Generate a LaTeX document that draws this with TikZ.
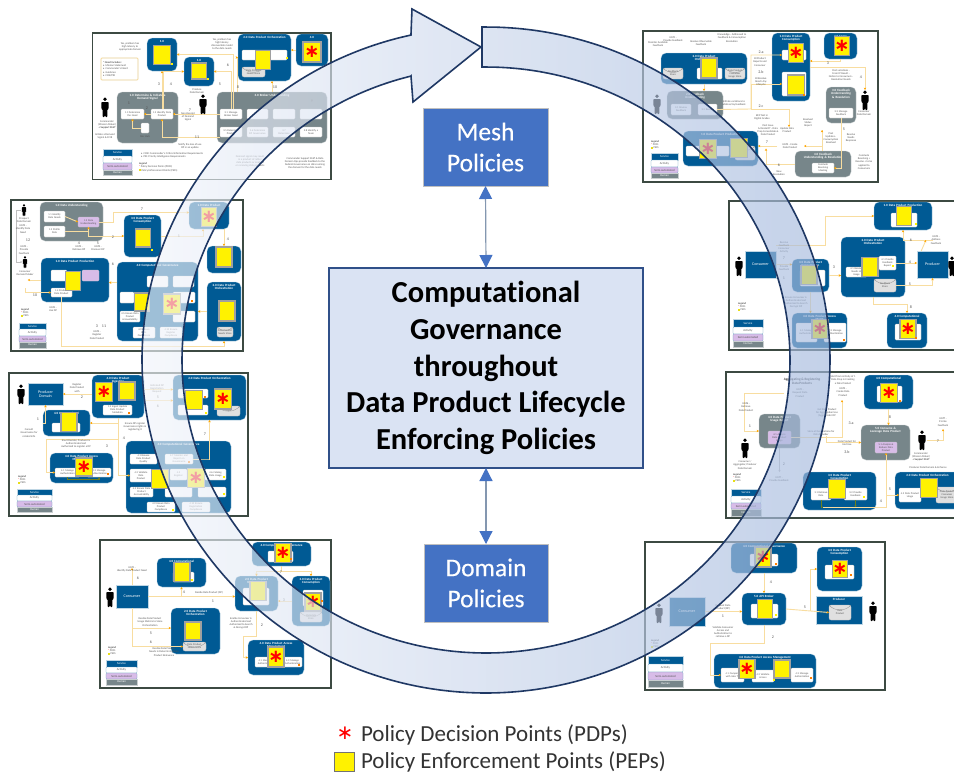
\documentclass[tikz,border=0pt]{standalone}
\usepackage{fontspec}
\setmainfont{Carlito}[Ligatures=NoCommon]
\newfontfamily\starf{DejaVu Sans}
\newfontfamily\meshf{Carlito}[FakeBold=0.4]
\usetikzlibrary{arrows.meta,calc,shapes.geometric}
\definecolor{svcblue}{HTML}{005A94}
\definecolor{hum}{HTML}{77868A}
\definecolor{semic}{HTML}{D8BCE8}
\definecolor{linec}{HTML}{F8DDA0}
\definecolor{olivec}{HTML}{6E7F1E}
\definecolor{framec}{HTML}{3C4A42}
\definecolor{ringc}{HTML}{1F3864}
\definecolor{meshc}{HTML}{4472C4}
\definecolor{pepg}{HTML}{A0A0A0}
\definecolor{txtg}{HTML}{555555}
\definecolor{dblc}{HTML}{8497B0}
\definecolor{ringl}{HTML}{F2F5FB}
\definecolor{ringr}{HTML}{A5BADE}
\tikzset{
  frm/.style={draw=framec,line width=1.3pt,fill=white,inner sep=0,outer sep=0},
  svc/.style={fill=svcblue,draw=svcblue!25,line width=.3pt,rounded corners=5pt,inner sep=0,outer sep=0},
  sqb/.style={fill=svcblue,draw=svcblue!25,line width=.3pt,inner sep=0,outer sep=0,text=white,align=center,font=\fontsize{4}{4.6}\selectfont},
  gry/.style={fill=hum,draw=hum!40,line width=.3pt,rounded corners=5pt,inner sep=0,outer sep=0},
  act/.style={fill=white,draw=black!25,line width=.3pt,rounded corners=1pt,inner sep=0,outer sep=0,align=center,text=txtg,font=\fontsize{2.6}{2.9}\selectfont},
  smi/.style={act,fill=semic},
  cyl/.style={act,fill=black!12,rounded corners=2pt},
  ttl/.style={inner sep=0,outer sep=0,align=center,text=white,font=\bfseries\fontsize{3.2}{3.7}\selectfont},
  lbl/.style={inner sep=0,outer sep=0,align=center,text=txtg,font=\fontsize{2.7}{3.1}\selectfont},
  num/.style={inner sep=0,outer sep=0,text=txtg,font=\fontsize{4}{4}\selectfont},
  pepn/.style={fill=yellow,draw=pepg,line width=1.4pt,inner sep=0,outer sep=0},
  pdpn/.style={pepn,text=red,font=\starf\bfseries\fontsize{18}{18}\selectfont},
  cn/.style={draw=linec,line width=.9pt,-{Stealth[length=2.4pt,width=2.4pt,color=orange!70!yellow]}},
  cd/.style={draw=olivec,line width=.5pt,-{Stealth[length=2pt,width=2pt]}},
  cg/.style={draw=black!25,line width=.5pt,-{Stealth[length=2pt,width=2pt]}},
  lgs/.style={sqb,font=\fontsize{3}{3}\selectfont},
  lga/.style={act,draw=svcblue!60,font=\fontsize{3}{3}\selectfont},
  lgm/.style={lga,fill=semic},
  lgh/.style={sqb,fill=hum,draw=hum!40,font=\fontsize{3}{3}\selectfont},
  bigbox/.style={fill=meshc,draw=black!25,line width=.4pt,text=white,align=center,inner sep=0,outer sep=0,font=\meshf\fontsize{25.5}{31}\selectfont},
  dbl/.style={draw=dblc,line width=1.2pt,{Triangle[length=13pt,width=13pt,color=meshc]}-{Triangle[length=13pt,width=13pt,color=meshc]}},
  dotm/.style={inner sep=0,outer sep=0,minimum size=2.2pt,draw=none},
  keytxt/.style={inner sep=0,outer sep=0,anchor=west,text=black!80,font=\fontsize{23}{23}\selectfont}
}
\newcounter{tn}
\newcommand\bx[7]{\pgfmathsetmacro\cxx{(#3+#5)/2}\pgfmathsetmacro\cyy{(#4+#6)/2}\pgfmathsetmacro\ww{#5-(#3)}\pgfmathsetmacro\hh{#6-(#4)}\node[#2,minimum width=\ww pt,minimum height=\hh pt,text width=\ww pt] (#1) at (\cxx,\cyy) {#7};}
\newcommand\cy[6]{\bx{#1}{cyl}{#2}{#3}{#4}{#5}{#6}\draw[black!45,line width=.3pt] (#1.north west) to[out=-50,in=-130] (#1.north east);}
\newcommand\svb[7]{\bx{#1}{#2}{#3}{#4}{#5}{#6}{}\pgfmathsetmacro\tw{#5-(#3)-3}\node[ttl,anchor=north,text width=\tw pt] (#1-t) at ([yshift=-2pt]#1.north) {#7};}
\newcommand\lb[3]{\stepcounter{tn}\node[lbl] (t\arabic{tn}) at (#1,#2) {#3};}
\newcommand\nm[3]{\stepcounter{tn}\node[num] (t\arabic{tn}) at (#1,#2) {#3};}
\newcommand\mk[3]{\stepcounter{tn}\node[dotm,fill=#3] (t\arabic{tn}) at (#1,#2) {};}
\newcommand\pep[5]{\node[pepn,minimum width=#4pt,minimum height=#5pt] (#1) at (#2,#3) {};}
\newcommand\pdp[5]{\node[pdpn,minimum width=#4pt,minimum height=#5pt] (#1) at (#2,#3) {∗};}
\newcommand\person[4][1]{\node[inner sep=0,outer sep=0,minimum width=#1*9pt,minimum height=#1*20pt] (#2) at (#3,#4) {};
  \begin{scope}[shift={(#3,#4)},scale=#1]\fill[black] (0,-7.7) circle[radius=1.9];\fill[black,rounded corners=.8pt] (-3.6,-5) -- (3.6,-5) -- (3.6,2) -- (2.5,2) -- (2.3,10) -- (.3,10) -- (0,3) -- (-.3,10) -- (-2.3,10) -- (-2.5,2) -- (-3.6,2) -- cycle;\end{scope}}
\newcommand\lgd[8]{\bx{#1a}{lgs}{#2}{#4}{#3}{#5}{Service}\bx{#1b}{lga}{#2}{#5}{#3}{#6}{Activity}\bx{#1c}{lgm}{#2}{#6}{#3}{#7}{Semi-automated}\bx{#1d}{lgh}{#2}{#7}{#3}{#8}{Human}}
\newcommand\lgt[2]{\stepcounter{tn}\node[lbl,align=left,anchor=north west] (t\arabic{tn}) at (#1,#2) {\textbf{Legend}\\[-.2pt]\textcolor{red}{*} PDPs\\[-.2pt]\textcolor{yellow!90!black}{\rule{2pt}{2pt}} PEPs};}
\begin{document}
\begin{tikzpicture}[x=1pt,y=-1pt]
\useasboundingbox (0,0) rectangle (954,774);
\fill[white] (0,0) rectangle (954,774);
%================ panel 1
\bx{a0}{frm}{92.5}{33}{331}{179.5}{}
\svb{aA}{svc}{147}{38}{177}{71}{1.0}
\svb{aB}{svc}{184}{57}{214}{86}{1.0}
\svb{aC}{svc}{238}{34}{291}{81}{2.0 Data Product Orchestration}
\bx{aC1}{act}{242}{50}{287}{60}{}
\cy{aC2}{242}{67}{265}{77}{Data Product Needs Store}
\svb{aD}{svc}{296}{34}{328}{66}{4.0}
\svb{aG1}{gry}{117}{92}{178}{143}{1.0 Determine \& Initiate a\\Demand Signal}
\bx{a11}{act}{121}{109}{144}{119}{1.1 Determine\\the Need}
\bx{a12}{act}{151}{109}{173}{119}{1.2 Identify Data\\Product}
\bx{aDoc}{act}{141}{123}{149}{133}{}
\lb{145}{137}{Doc Hub}
\svb{aG2}{gry}{217}{92}{327}{143}{3.0 Broker Understanding}
\bx{a21}{act}{220}{109}{242}{119}{3.1 Manage\\Broker Need}
\bx{a22}{act}{247}{109}{268}{119}{}
\bx{a23}{act}{273}{109}{295}{119}{}
\bx{a24}{act}{300}{109}{322}{119}{}
\bx{a25}{act}{220}{127}{242}{137}{3.5 Determine\\Product}
\bx{a26}{act}{247}{127}{268}{137}{3.6 Determine\\DP Governance}
\bx{a27}{act}{273}{127}{295}{137}{3.7\\Determine}
\bx{a28}{act}{300}{127}{322}{137}{3.8 Identify a\\Team}
\bx{aN}{act}{101}{58}{138}{80}{}
\draw[draw=linec,line width=.8pt,rounded corners=1pt] (aN.north west) rectangle (aN.south east);
\stepcounter{tn}\node[lbl,align=left,anchor=west] (t\arabic{tn}) at (103,69) {\textbf{* Need Includes:}\\•\ \ Mission Statement\\•\ \ Commander's Intent\\•\ \ Guidance\\•\ \ CCIR/PIR};
\draw[cn] (a12.west) -- (a11.east);
\draw[cn] (aDoc.west) -| (a11.south);
\draw[cn] (a12.north) -- (a12.north |- aA.south);
\draw[cn] (a12.70) |- (aB.west);
\draw[cn] (a21.west) -- (a12.east);
\draw[cn] (a21.north) |- (aB.east);
\draw[cn] (a21.65) |- (aA.east);
\draw[cn] ([xshift=20pt]aG2.north west) |- (aC.west);
\draw[cn] (aG2.north) -- (aG2.north |- aC.south);
\draw[cn] (a25.south west) -| (a12.south);
\draw[cn] (aD.west) -- (aD.west -| aC.east);
\pep{aPA}{162}{55}{17}{19}\pep{aPB}{199}{71}{15}{16}\pep{aPC}{263}{60}{15}{19}\pdp{aPD}{312}{52}{18}{20}
\person{aH1}{105}{107}\person{aH2}{203}{104}
\lb{107}{125}{Commander\\(Mission Maker)\\\textbf{+ Support Staff}}
\lb{105}{136}{Initiate a Demand\\Signal \& CCIR}
\lb{130}{47}{Yes, problem has\\high latency to\\appropriate domain}
\lb{222}{44}{Yes, problem has\\high latency\\discoverable model\\to the data needs}
\lb{197}{91}{Produce\\Data Domain}
\lb{188}{117}{Non-Receipt\\of Demand\\Signal}
\lb{190}{146}{Notify the loss of use\\DP in an update}
\nm{147}{108}{2}\nm{129}{103}{1}\nm{159}{84}{3}\nm{171}{84}{4}\nm{220}{84}{5}\nm{190}{110}{7}\nm{228}{65}{6}\nm{238}{87}{8}\nm{275}{87}{10}\nm{197}{137}{11}\nm{312}{101}{9}
\stepcounter{tn}\node[lbl,align=left,anchor=west] (t\arabic{tn}) at (141,155) {•\ \ CCIR: Commander's Critical Information Requirements\\•\ \ PIR: Priority Intelligence Requirements};
\lb{250}{161}{Demand signal may result\\in a product of rather\\data products or analysis\\or receiving data products}
\lb{305}{163}{Commander Support Staff \& Data\\Domain Ops provide feedback to the\\Federal Governance on data running\\the domain for the data needs}
\stepcounter{tn}\node[lbl,align=left,anchor=north west] (t\arabic{tn}) at (139,163) {\textbf{Legend}\\\textcolor{red}{*} Policy Decision Points (PDPs)\\\textcolor{yellow!90!black}{\rule{2pt}{2pt}} Policy Enforcement Points (PEPs)};
\lgd{aL}{103}{132}{149}{156}{163}{170}{175}
%================ panel 2
\bx{b0}{frm}{11}{200}{243}{351}{}
\svb{bG}{gry}{40}{202}{103}{241}{1.0 Data Understanding}
\bx{b11}{act}{44}{211}{65}{222}{1.1 Identify\\Data Needs}
\bx{b12}{act}{44}{226}{65}{237}{1.2 Profile\\Data}
\bx{b13}{smi}{78}{217}{99}{227}{1.3 Data\\Understanding}
\svb{bS3}{svc}{124}{215}{161}{257}{3.0 Data Product\\Consumption}
\svb{bS4}{svc}{189}{202}{229}{229}{1.0 Data Product}
\svb{bS5}{svc}{207}{246}{241}{273}{4.0}
\svb{bS2}{svc}{207}{282}{241}{341}{2.0 Data Product\\Orchestration}
\cy{bS2c}{217}{327}{233}{337}{Data Product\\Needs Store}
\svb{bP}{svc}{41}{258}{109}{302}{1.0 Data Product Production}
\bx{bP1}{act}{51}{270}{67}{281}{}
\bx{bP2}{act}{51}{288}{72}{297}{1.4 Produce\\Data Product}
\bx{bP3}{smi}{82}{270}{99}{281}{}
\svb{bV}{svc}{117}{262}{198}{341}{4.0 Computational Governance}
\bx{bV1}{act}{147}{276}{168}{287}{}
\bx{bV2}{act}{173}{276}{194}{287}{}
\bx{bV3}{act}{120}{292}{134}{303}{}
\bx{bV4}{act}{173}{292}{195}{303}{}
\bx{bV5}{act}{120}{311}{140}{322}{4.5 Ensure Data\\Product\\Accountability}
\bx{bV6}{act}{173}{311}{195}{322}{}
\bx{bV7}{act}{133}{327}{155}{338}{4.9 Ensure\\Data\\Compliance}
\bx{bV8}{act}{160}{327}{182}{338}{4.10 Ensure\\Register\\Compliance}
\person[.6]{bH1}{24}{210}\person[.6]{bH2}{25}{262}
\draw[cn] (b13.east) -- ++(14,0) |- ([yshift=3pt]bS4.west);
\draw[cn] (b13.south) |- (bS3.west);
\draw[cn] (bS3.east) -| ([xshift=-6pt]bS4.south);
\draw[cn] (bS5.north |- bS4.south) -- (bS5.north);
\draw[cn] (b11.east) -- (b13.west);
\draw[cn] (b12.east) -| (b13.south);
\draw[cn] (bS2.west) -- (bS2.west -| bV.east);
\coordinate (bc1) at (224,346);
\draw[cn] (bP2.south) |- (bc1) -- (bS2.south);
\coordinate (bc2) at (25,288);
\draw[cn] (bc2) -- (bc2 |- bP2.west) -- (bP2.west);
\draw[cn] (bP.west) -- (bP.west -| bH2.east);
\draw[cn] (bV.155) -- (bV.155 -| bP.east);
\draw[cg] (bH1.west) -- ++(-5,0) |- (bH2.west);
\pep{bPS3}{143}{238}{15}{18}\pdp{bPS4}{209}{217}{15}{19}\pep{bPS5}{224}{257}{16}{20}\pep{bPS2}{227}{311}{16}{20}\pep{bPP}{73}{281}{15}{19}\pep{bPV}{142}{302}{15}{18}\pdp{bPX}{172}{304}{17}{20}
\lb{24}{220}{Prospect\\Data Domain}
\lb{23}{229}{UC\#3 -\\Identify Data\\Need}
\lb{24}{250}{UC\#5 -\\Provide\\Feedback}
\lb{25}{273}{Consumer\\Demand Maker}
\lb{79}{248}{UC\#5 -\\Retrieve DP}
\lb{98}{248}{UC\#2 -\\Discover DP}
\lb{53}{309}{UC\#4 -\\Use DP}
\lb{97}{335}{UC\#3 -\\Register\\Data Product}
\nm{142}{209}{7}\nm{113}{237}{2}\nm{79}{243}{4}\nm{98}{243}{5}\nm{179}{236}{1}\nm{228}{239}{4}\nm{28}{240}{12}\nm{113}{264}{6}\nm{35}{295}{10}\nm{97}{326}{3}\nm{104}{326}{11}
\lgt{21}{309}
\lgd{bL}{19}{46}{323}{329}{336}{342}{348}
%================ panel 3
\bx{c0}{frm}{9}{373}{248}{516}{}
\bx{cPd}{sqb}{28}{383}{63}{405}{Producer\\Domain}
\svb{cS1}{svc}{92}{375}{144}{418}{4.0 Data Product\\Ingestion}
\bx{cS1a}{act}{103}{405}{132}{415}{1.2 Ingest Update\\Data Product\\Metadata}
\svb{cS2}{svc}{173}{375}{246}{420}{2.0 Data Product Orchestration}
\bx{cS21}{act}{178}{389}{208}{398}{}
\bx{cS22}{act}{178}{405}{208}{415}{}
\cy{cS23}{217}{406}{240}{416}{Store}
\svb{cS3}{svc}{43}{410}{90}{436}{4.0 Computational\\Gov}
\bx{cS3a}{act}{52}{423}{80}{432}{}
\svb{cS4}{svc}{50}{453}{113}{483}{4.0 Data Product Access\\Management}
\bx{cS41}{act}{55}{468}{80}{477}{4.1 Manage\\Authorization}
\bx{cS42}{act}{87}{468}{111}{477}{4.3 Manage\\Authentication}
\svb{cV}{svc}{126}{441}{231}{513}{4.0 Computational Governance}
\bx{cV1}{act}{130}{454}{157}{464}{4.1 Browse\\Data Product\\Quality}
\bx{cV2}{act}{165}{454}{193}{464}{4.7 Monitor and\\Report on\\Governance}
\bx{cV3}{act}{130}{469}{152}{482}{4.2 Validate\\Data\\Product}
\bx{cV4}{act}{170}{469}{187}{480}{4.3\\Register}
\bx{cV5}{act}{205}{469}{226}{480}{4.6 Catalog\\Data Usage}
\bx{cV6}{act}{130}{487}{153}{497}{4.5 Ensure Data\\Product\\Accountability}
\bx{cV7}{act}{165}{487}{192}{497}{}
\bx{cV8}{act}{198}{487}{226}{497}{}
\bx{cV9}{act}{147}{502}{175}{512}{4.9 Ensure Data\\Product\\Compliance}
\bx{cV10}{act}{182}{502}{210}{512}{4.10 Ensure\\Registration\\Compliance}
\person{cH}{21}{394}
\draw[cn] (cS1.west |- cPd.east) -- (cPd.east);
\draw[cn] (cS3.west) -| (cPd.south);
\draw[cn] ([yshift=-4pt]cS1.east) -- ([yshift=-4pt]cS1.east -| cS2.west);
\draw[cn] ([yshift=7pt]cS1.east) -- ([yshift=7pt]cS1.east -| cS2.west);
\draw[cn] (cS1.south) |- (cV3.west);
\draw[cn] (cS1.south |- cS3.east) -- (cS3.east);
\coordinate (cc1) at (46,439);
\draw[cn] (cS1.south |- cc1) -- (cc1) |- (cS41.west);
\draw[cn] (cV2.east) -- ++(16,0) -| (cS2.south);
\draw[cd] (cS41.south) -- ++(0,2) -| (cS42.south);
\pdp{cP1}{104}{392}{17}{19}\pep{cP2}{127}{391}{16}{18}\pep{cP3}{194}{400}{17}{19}\pdp{cP4}{223}{399}{17}{20}\pep{cP5}{69}{422}{16}{19}\pdp{cP6}{84}{467}{17}{18}\pep{cP7}{160}{479}{17}{19}\pdp{cP8}{196}{478}{17}{19}
\lb{77}{388}{Register\\Data Product\\with}
\lb{29}{433}{Consult\\Governance for\\related info}
\lb{76}{444}{Enact Decider, Producer is\\Authenticated and\\Authorized to register a DP}
\lb{135}{427}{Ensure DP register\\Governance rights in\\registering it}
\lb{157}{389}{Indicated DP\\Registration\\Request}
\nm{82}{397}{2}\nm{38}{419}{1}\nm{107}{446}{3}\nm{124}{438}{4}\nm{158}{397}{5}\nm{158}{406}{6}\nm{205}{434}{7}
\lgt{18}{476}
\lgd{cL}{17}{52}{489}{495}{501}{507}{512}
%================ panel 4
\bx{d0}{frm}{100}{540}{331}{688}{}
\bx{dCn}{sqb}{116}{585}{148}{608}{Consumer}
\svb{dS1}{svc}{157}{558}{206}{587}{4.0 Computational\\Governance}
\bx{dS1a}{act}{173}{572}{194}{582}{}
\svb{dS2}{svc}{171}{608}{220}{654}{2.0 Data Product\\Orchestration}
\cy{dS2a}{183}{642}{206}{651}{Data Product\\Needs Store}
\svb{dS3}{svc}{235}{576}{278}{611}{2.0 Data Product\\Orchestration}
\bx{dS3a}{act}{243}{588}{269}{605}{}
\svb{dS4}{svc}{252}{542}{311}{566}{4.0 Computational Governance}
\bx{dS4a}{act}{268}{551}{293}{562}{}
\svb{dS5}{svc}{292}{576}{330}{626}{3.0 Data Product\\Consumption}
\cy{dS5a}{300}{612}{322}{622}{Metadata\\Store}
\bx{dS5b}{act}{303}{590}{323}{606}{}
\svb{dS6}{svc}{248}{640}{304}{675}{4.0 Data Product Access\\Management}
\bx{dS61}{act}{255}{657}{275}{667}{4.1 Manage\\Authorization}
\bx{dS62}{act}{283}{657}{302}{667}{4.3 Manage\\Authentication}
\person{dH}{110}{597}
\draw[cn] (dCn.north) -- ++(0,-17);
\draw[cn] (dCn.east) -- (dCn.east -| dS3.west);
\draw[cn] (dCn.east -| dS1.south) -- (dS1.south);
\draw[cn] (dS5.west) -- (dS5.west -| dS3.east);
\draw[cn] (dCn.south) |- ([yshift=3pt]dS2.west);
\draw[cn] (dCn.south) |- (dS2a.west);
\draw[cn] (dS3.south) -- ++(0,25) -- ++(-13,0) |- (dS6.west);
\draw[cn] (dS4.south) -- ++(0,5) -| (dS3.north);
\draw[cn] (dS4.south) -- ++(0,5) -| (dS5.north);
\pep{dP1}{182}{572}{16}{19}\pep{dP2}{193}{631}{16}{18}\pep{dP3}{258}{591}{16}{19}\pdp{dP4}{283}{553}{16}{19}\pdp{dP5}{313}{602}{16}{18}\pdp{dP6}{276}{657}{16}{20}
\lb{132}{569}{UC\#1 -\\Identify Data Product Need}
\lb{209}{593}{Decide Data Product (DP)}
\lb{150}{622}{Realize Data Product\\Usage Metrics to Store\\Orchestration}
\lb{164}{652}{Realize Data Product\\Needs in Determining Data\\Product Relevance}
\lb{241}{623}{Enable Consumer is\\Authenticated and\\Authorized to Search\\\& Decrypt DP}
\nm{138}{578}{6}\nm{184}{592}{4}\nm{213}{601}{1}\nm{151}{633}{5}\nm{151}{642}{6}\nm{262}{625}{2}\nm{284}{600}{3}\nm{281}{572}{7}
\lgt{108}{647}
\lgd{dL}{106}{137}{660}{667}{673}{679}{685}
%================ panel 5
\bx{e0}{frm}{643}{31}{878}{182}{}
\svb{eS1}{svc}{661}{53}{747}{84}{2.0 Data Product\\Orchestration}
\cy{eS1a}{663}{68}{683}{79}{Feedback\\Store}
\bx{eS1b}{act}{697}{68}{722}{79}{}
\cy{eS1c}{725}{68}{745}{79}{Data Product\\Consumer\\Usage Store}
\svb{eG1}{gry}{667}{91}{723}{119}{2.0 Feedback\\Understanding}
\bx{eG11}{act}{671}{104}{691}{115}{3.1 Review\\Feedback}
\bx{eG12}{act}{698}{104}{717}{115}{3.2 Review}
\svb{eS2}{svc}{683}{131}{758}{166}{1.0 Data Product Production}
\bx{eS2a}{act}{686}{146}{729}{156}{}
\cy{eS2b}{735}{146}{755}{160}{}
\svb{eS3}{svc}{772}{33}{810}{101}{1.0 Data Product\\Consumption}
\bx{eS31}{act}{782}{50}{806}{60}{}
\bx{eS32}{act}{782}{72}{806}{96}{}
\svb{eS4}{svc}{824}{33}{857}{59}{4.0 Comp}
\svb{eG2}{gry}{826}{87}{856}{123}{3.0 Feedback\\Understanding\\\& Resolution}
\bx{eG21}{act}{829}{108}{853}{118}{3.3 Manage\\Feedback}
\svb{eG3}{gry}{795}{151}{851}{177}{4.0 Feedback\\Understanding \& Resolution}
\bx{eG31}{act}{812}{163}{834}{173}{Conclude\\Resolving\\Meeting}
\person{eH1}{657}{104}\person{eH2}{865}{100}
\coordinate (ec1) at (751,109);
\coordinate (ec2) at (789,127);
\coordinate (ec3) at (777,146);
\coordinate (ec4) at (822,130);
\coordinate (ec5) at (804,146);
\draw[cn] (eG12.east) -- (ec1) |- (eS31.west);
\draw[cn] (ec1) |- (eS32.west);
\draw[cn] (ec1) -| (ec2);
\draw[cn] (eS1.south) -- (eS1.south |- eG1.north);
\draw[cn] (eS4.south) |- ([yshift=6pt]eS3.east);
\draw[cn] (eS3.east) -| (eH2.north);
\draw[cn] (ec3) -- (ec3 -| eS2.east);
\draw[cn] (eG3.west) -| ([xshift=8pt]eS2.east);
\draw[cn] (eG21.south) |- (eG31.east);
\draw[cn] (ec4) |- (ec5);
\draw[cn] (eG3.north -| ec4) -- (ec4);
\pep{eP1}{709}{68}{16}{20}\pdp{eP2}{708}{149}{17}{19}\pep{eP3}{739}{148}{17}{19}\pdp{eP4}{796}{53}{15}{19}\pep{eP5}{796}{85}{17}{20}\pdp{eP6}{842}{46}{15}{19}
\lb{673}{39}{UC\#1 -\\Provide Feedback}
\lb{658}{44}{Monitor Available\\Feedback}
\lb{732}{38}{Knowledge - Addressed to\\Feedback \& Consumption\\Resolution}
\lb{701}{43}{Resolve Observable\\Feedback}
\lb{760}{62}{BI Product\\Reports and\\Consumer}
\lb{761}{82}{BI Resolve\\Reach Any\\Lifecycle}
\lb{734}{103}{Initiate variations to\\address/lay feedback}
\lb{762}{117}{BI/P Not in\\Digital Grades}
\lb{768}{130}{Post Issue\\Activate DT - Data\\Prep Consolidate \&\\Data Product}
\lb{787}{130}{Update Data\\Product}
\lb{790}{146}{UC\#2 - Create\\Data Product}
\lb{841}{75}{Post variations -\\From IP Result -\\Notice to Consumers -\\Resolution Needs}
\lb{808}{123}{Resolved\\Status\\Report}
\lb{831}{138}{Post\\Updates -\\Consumption\\Resolved}
\lb{851}{138}{Resolve\\Needs\\Response}
\lb{864}{162}{Conclude\\Resolving +\\Resolve + to be\\applied to\\Consumers}
\lb{779}{173}{New\\Resolution}
\lb{864}{113}{Consumer\\Data Domain}
\nm{761}{52}{2.a}\nm{761}{72}{2.b}\nm{761}{106}{2.c}\nm{828}{63}{3}\nm{861}{77}{4}\nm{844}{129}{5}\nm{779}{165}{6}\nm{767}{142}{7}
\lgt{651}{141}
\lgd{eL}{651}{678}{153}{160}{167}{173}{178}
%================ panel 6
\bx{f0}{frm}{729}{201}{960}{350}{}
\svb{fS1}{svc}{874}{202}{932}{230}{1.0 Data Product Production}
\bx{fS1a}{act}{891}{213}{917}{227}{}
\svb{fS2}{svc}{841}{237}{905}{297}{2.0 Data Product\\Orchestration}
\bx{fS21}{act}{846}{267}{867}{277}{4.1 Receive\\Needs of\\Usage}
\bx{fS22}{act}{879}{256}{896}{270}{4.1 Provide\\Feedback\\Report}
\cy{fS23}{874}{279}{896}{292}{Feedback\\Store}
\bx{fPr}{sqb}{917}{251}{948}{278}{Producer}
\bx{fCn}{sqb}{745}{251}{776}{278}{Consumer}
\svb{fS3}{svc}{792}{259}{829}{292}{3.0 Data Product\\Consumption}
\bx{fS3a}{act}{800}{270}{825}{286}{}
\svb{fS4}{svc}{887}{313}{927}{348}{4.0 Computational}
\bx{fS4a}{act}{895}{324}{921}{340}{}
\svb{fS5}{svc}{792}{313}{847}{348}{4.0 Data Product Access\\Mgmt}
\bx{fS51}{act}{796}{323}{817}{342}{4.1 Manage\\Authorization}
\bx{fS52}{act}{824}{323}{846}{342}{4.3 Manage\\Authentication}
\person{fH1}{739}{266}\person{fH2}{952}{266}
\coordinate (fc1) at (825,216);
\coordinate (fc2) at (926,240);
\draw[cn] ([yshift=6pt]fCn.north east) -- ++(0,0) -| (fc1) -- (fS1.west);
\draw[cn] (fCn.east) -- (fCn.east -| fS3.west);
\draw[cn] (fS3.east) -- (fS3.east -| fS2.west);
\draw[cn] (fPr.north |- fc2) -| (fS1.south);
\draw[cn] (fPr.130) -- (fc2);
\draw[cn] (fS22.east) -- (fS22.east -| fPr.west);
\draw[cn] (fS23.east) -| (fPr.south);
\draw[cn] (fS2.south) -- ++(0,7) -| (fS4.north);
\draw[cn] (fS3.south) -- (fS3.south |- fS5.north);
\pep{fP1}{904}{216}{15}{19}\pep{fP2}{870}{267}{16}{19}\pep{fP3}{809}{275}{16}{19}\pdp{fP4}{908}{329}{16}{19}\pdp{fP5}{820}{329}{16}{19}
\lb{784}{247}{Receive\\Feedback\\Consumer\\Activity}
\lb{784}{268}{Provide\\Feedback}
\lb{796}{302}{Ensure Consumer is\\Authenticated and\\Authorized to Search\\Decrypt DP}
\lb{936}{240}{UC\#5 -\\Address\\Feedback}
\nm{784}{258}{7}\nm{784}{278}{1}\nm{834}{267}{3}\nm{911}{240}{6}\nm{910}{262}{4}\nm{910}{284}{5}\nm{911}{307}{8}
\lgt{738}{303}
\lgd{fL}{733}{763}{319}{327}{334}{341}{347}
%================ panel 7
\bx{g0}{frm}{726}{372}{960}{518}{}
\svb{gS1}{svc}{864}{375}{913}{409}{4.0 Computational}
\bx{gS1a}{act}{877}{386}{902}{402}{}
\svb{gG1}{gry}{861}{425}{910}{460}{5.0 Consume \&\\Leverage Data Product}
\bx{gG1a}{smi}{875}{442}{897}{453}{5.1 Analyze \&\\Reduce Data\\Product}
\svb{gG2}{gry}{759}{414}{800}{448}{4.0 Data Product\\Usage Report}
\bx{gG2a}{smi}{768}{431}{791}{444}{4.1 Analyze\\Data Product\\Usage}
\svb{gS3}{svc}{803}{472}{876}{510}{3.0 Data Product\\Consumption}
\bx{gS31}{act}{811}{488}{831}{500}{3.1 Retrieve\\Data}
\bx{gS32}{act}{844}{488}{867}{500}{3.2 Provide\\Feedback}
\svb{gS2}{svc}{895}{472}{960}{509}{2.0 Data Product Orchestration}
\bx{gS21}{act}{899}{488}{921}{502}{4.3 Data Product\\Usage}
\cy{gS22}{936}{487}{958}{503}{Data Product\\Consumer\\Usage Store}
\person{gH1}{745}{448}\person{gH2}{922}{440}
\coordinate (gc1) at (744,393);
\coordinate (gc2) at (784,393);
\coordinate (gc3) at (842,400);
\coordinate (gc4) at (826,436);
\coordinate (gc5) at (823,507);
\coordinate (gc6) at (886,507);
\coordinate (gc7) at (943,429);
\draw[cn] (gc2) -- (gc1) -- (gc1 |- gG2.west) -- (gG2.west);
\draw[cn] (gG2a.east) -| (gc3);
\draw[cn] (gc4) |- (gG1.west);
\draw[cn] (gc5) -- (gc6) -- (gG1a.south);
\draw[cn] (gc6 |- gS21.west) -- (gS21.west);
\draw[cn] (gS1.south) -- (gS1.south |- gG1.north);
\draw[cn] (gH2.east) -| (gc7);
\draw[cg] (gG2.south) -- ++(0,24);
\draw[cd] (gS31.south) |- (gc5);
\draw[cd] (gS32.south) -- (gS32.south |- gc5);
\pdp{gP1}{889}{393}{17}{19}\pep{gP2}{837}{489}{17}{19}\pep{gP3}{929}{488}{17}{19}
\stepcounter{tn}\node[inner sep=0,outer sep=0,align=center,text=black!75,font=\bfseries\fontsize{3.4}{4}\selectfont] (t\arabic{tn}) at (802,381) {Aggregating \& Registering\\Data Products};
\lb{746}{407}{UC\#6 -\\Retrieve\\Data Product}
\lb{800}{393}{UC\#1 -\\Request Data\\Product}
\lb{843}{380}{Start from Activity of 1\\Data Prep in Creating\\a Data Product}
\lb{843}{392}{UC\#2 -\\Create Data\\Product}
\lb{827}{413}{Get Data Product\\for Aggregation Use\\(Aggr) Order DP}
\lb{821}{433}{Store all Associations for\\Data Provider}
\lb{847}{443}{Data Product for\\End Use}
\lb{745}{465}{Consumer /\\Aggregator, Producer\\Data Domain}
\lb{779}{479}{UC\#7 -\\Provide Feedback}
\lb{921}{457}{Commander\\(Mission Maker)\\\textbf{+ Support Staff}}
\lb{928}{468}{Producer Data Domain \& Enhance}
\lb{943}{422}{UC\#7 -\\P-Links\\Feedback}
\nm{750}{426}{1}\nm{784}{464}{2}\nm{851}{423}{3.a}\nm{847}{452}{3.b}\nm{881}{501}{4}\nm{890}{489}{5}\nm{890}{417}{8}\nm{938}{441}{7}
\lgt{733}{474}
\lgd{gL}{731}{761}{489}{496}{503}{509}{516}
%================ panel 8
\bx{h0}{frm}{645}{542}{885}{690}{}
\svb{hS1}{svc}{731}{543}{797}{573}{4.0 Computational Governance}
\bx{hS1a}{act}{750}{554}{778}{566}{}
\svb{hS2}{svc}{817}{547}{862}{591}{3.0 Data Product\\Consumption}
\bx{hS2a}{act}{825}{565}{854}{579}{}
\svb{hB}{svc}{742}{593}{786}{625}{5.0 API Broker}
\bx{hBa}{act}{751}{604}{778}{618}{}
\svb{hPr}{sqb}{816}{596}{862}{624}{Producer}
\cy{hPc}{829}{605}{851}{620}{Data\\Product}
\bx{hCn}{sqb}{669}{597}{705}{626}{Consumer}
\svb{hS3}{svc}{714}{654}{816}{688}{4.0 Data Product Access Management}
\bx{hS31}{act}{721}{668}{744}{682}{4.1 Compare\\with Idea TL}
\bx{hS32}{act}{752}{670}{774}{682}{4.2 Validate\\Access}
\bx{hS33}{act}{791}{668}{813}{682}{4.3 Manage\\Authorization}
\person{hH1}{659}{613}\person{hH2}{873}{611}
\coordinate (hc1) at (710,643);
\coordinate (hc2) at (810,611);
\draw[cn] (hCn.east) -- (hCn.east -| hB.west);
\draw[cn] (hS1.south) -- (hS1.south |- hB.north);
\draw[cn] (hB.south) |- (hc1) |- (hS31.west);
\draw[cn] (hB.east) -- (hPc.west);
\draw[cn] (hc2) |- (hS2.west);
\pdp{hP1}{763}{557}{16}{20}\pdp{hP2}{840}{569}{15}{17}\pep{hP3}{765}{609}{15}{19}\pdp{hP4}{747}{669}{16}{19}\pep{hP5}{782}{669}{16}{18}
\lb{723}{607}{Request Data\\Product (DP)}
\lb{723}{632}{Validate Consumer\\Access and\\Authorization to\\retrieve a DP}
\nm{723}{616}{1}\nm{773}{637}{2}\nm{771}{582}{4}\nm{805}{607}{5}
\lgt{651}{640}
\lgd{hL}{648}{683}{656}{664}{672}{680}{687}
%================ small markers
\mk{172}{64}{yellow}\mk{208}{79}{yellow}\mk{287}{58}{yellow}\mk{152}{250}{yellow}\mk{192}{301}{orange}
\mk{205}{397}{orange}\mk{206}{413}{yellow}\mk{129}{413}{orange}\mk{108}{474}{orange}\mk{189}{462}{orange}\mk{224}{477}{yellow}\mk{224}{494}{yellow}\mk{173}{510}{yellow}
\mk{192}{580}{yellow}\mk{291}{559}{orange}\mk{322}{601}{orange}\mk{299}{665}{orange}
\mk{804}{95}{orange}\mk{893}{266}{yellow}\mk{916}{224}{yellow}\mk{916}{338}{orange}\mk{844}{340}{orange}
\mk{900}{401}{orange}\mk{864}{497}{yellow}
\mk{776}{615}{yellow}\mk{811}{678}{orange}\mk{851}{575}{orange}\mk{776}{564}{orange}\mk{774}{680}{yellow}
%================ ring
\shade[draw=ringc,line width=1.6pt,left color=ringl,right color=ringr,fill opacity=.66,draw opacity=1,line join=miter]
  plot[domain=-90.67:257.4,samples=160,smooth] ({486+344*cos(-\x)},{360-333*sin(-\x)})
  -- (412,9) -- (481,47) -- (413,102) -- (411,76)
  -- plot[domain=-255.7:90.75,samples=160,smooth] ({486+304*cos(\x)},{360-293*sin(\x)}) -- cycle;
%================ centre
\bx{mesh}{bigbox}{423}{108}{548}{186}{Mesh\\Policies}
\bx{domain}{bigbox}{424}{544}{548}{622}{Domain\\Policies}
\node[fill=meshc!20!white,draw=meshc!70!black,line width=1.8pt,minimum width=314pt,minimum height=200pt,inner sep=0,outer sep=0,align=center,text=black,font=\bfseries\fontsize{30.5}{36.6}\selectfont] (core) at (486,368) {Computational\\Governance\\throughout\\Data Product Lifecycle\\Enforcing Policies};
\draw[dbl] (mesh.south) -- (core.north);
\draw[dbl] (core.south) -- (domain.north);
%================ key
\node[inner sep=0,outer sep=0,text=red,font=\starf\fontsize{20}{20}\selectfont] (keyS) at (345,733) {∗};
\node[fill=yellow,draw=black!55,line width=.8pt,minimum width=20pt,minimum height=19pt,inner sep=0,outer sep=0] (keyP) at (344,762) {};
\node[keytxt] (keyA) at (361,735) {Policy Decision Points (PDPs)};
\node[keytxt] (keyB) at (361,762) {Policy Enforcement Points (PEPs)};
\end{tikzpicture}
\end{document}
